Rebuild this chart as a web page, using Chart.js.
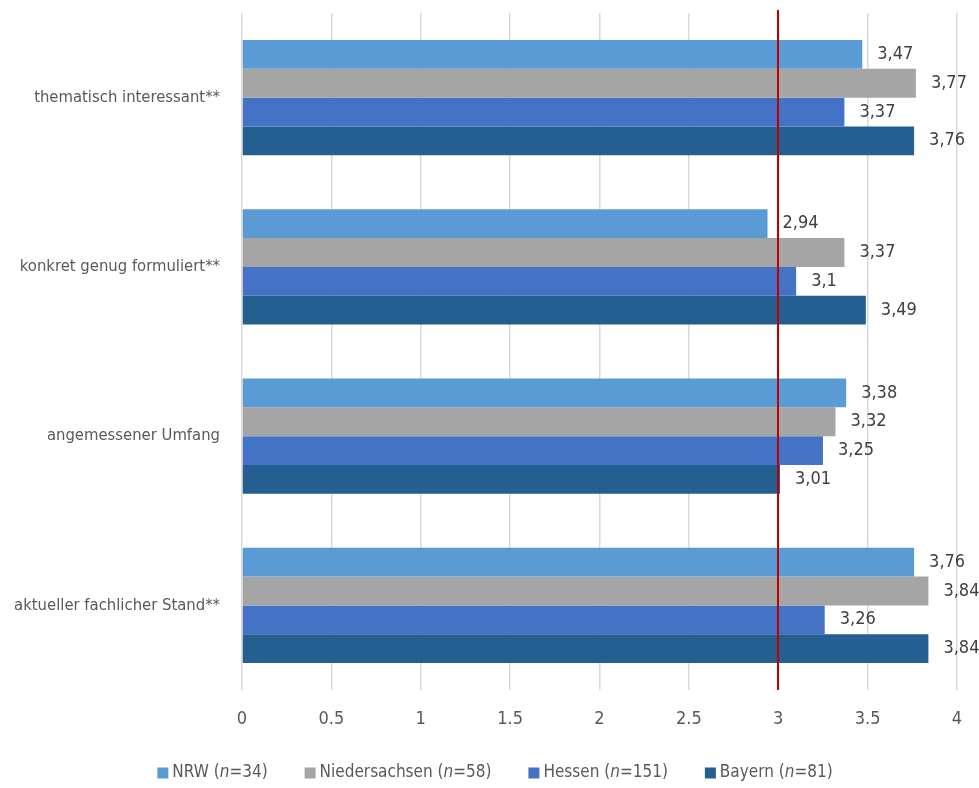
<!DOCTYPE html>
<html lang="de">
<head>
<meta charset="utf-8">
<script src="https://cdn.jsdelivr.net/npm/chart.js@4/dist/chart.umd.min.js"></script>
<style>
  html, body { margin: 0; padding: 0; background: #ffffff; }
  #wrap { width: 979px; height: 788px; position: relative; }
</style>
</head>
<body>
<div id="wrap"><canvas id="c" width="979" height="788"></canvas></div>
<script>
// Bewertung der Materialien nach Bundesland (Mittelwerte)
const categories = [
  'thematisch interessant**',
  'konkret genug formuliert**',
  'angemessener Umfang',
  'aktueller fachlicher Stand**'
];
const seriesNames = ['NRW', 'Niedersachsen', 'Hessen', 'Bayern'];
const sampleSizes = [34, 58, 151, 81];
const nrwValues = [3.47, 2.94, 3.38, 3.76];
const niedersachsenValues = [3.77, 3.37, 3.32, 3.84];
const hessenValues = [3.37, 3.1, 3.25, 3.26];
const bayernValues = [3.76, 3.49, 3.01, 3.84];
const xTicks = [0, 0.5, 1, 1.5, 2, 2.5, 3, 3.5, 4];
const referenceValue = 3;

const colors = ['#5B9BD5', '#A5A5A5', '#4472C4', '#255E91'];
const FONT = "'Liberation Sans Narrow', 'DejaVu Sans Condensed', 'Noto Sans', sans-serif";

const seriesValues = [nrwValues, niedersachsenValues, hessenValues, bayernValues];

const datasets = seriesNames.map((name, i) => ({
  label: name,
  data: seriesValues[i],
  backgroundColor: colors[i],
  borderWidth: 0,
  categoryPercentage: 0.68,
  barPercentage: 1.0
}));

// Value labels to the right of each bar, German decimal comma
const valueLabels = {
  id: 'valueLabels',
  afterDatasetsDraw(chart) {
    const ctx = chart.ctx;
    ctx.save();
    ctx.font = '18px ' + FONT;
    ctx.fillStyle = '#404040';
    ctx.textAlign = 'left';
    ctx.textBaseline = 'middle';
    chart.data.datasets.forEach((ds, di) => {
      const meta = chart.getDatasetMeta(di);
      meta.data.forEach((bar, i) => {
        const txt = String(ds.data[i]).replace('.', ',');
        ctx.fillText(txt, bar.x + 15, bar.y);
      });
    });
    ctx.restore();
  }
};

// Red reference line at the scale midpoint value
const refLine = {
  id: 'refLine',
  afterDatasetsDraw(chart) {
    const { ctx, chartArea, scales } = chart;
    const x = Math.round(scales.x.getPixelForValue(referenceValue));
    ctx.save();
    ctx.strokeStyle = '#C00000';
    ctx.lineWidth = 2;
    ctx.beginPath();
    ctx.moveTo(x, chartArea.top - 3);
    ctx.lineTo(x, chartArea.bottom);
    ctx.stroke();
    ctx.restore();
  }
};

// Legend with italic sample size symbol
const italicLegend = {
  id: 'italicLegend',
  afterDraw(chart) {
    const ctx = chart.ctx;
    const size = 17;
    const boxSize = 11;
    const boxGap = 4;
    const itemGap = 37;
    const y = 773;
    const centerX = 495;
    const upright = size + 'px ' + FONT;
    const italic = 'italic ' + size + 'px ' + FONT;
    ctx.save();
    ctx.textBaseline = 'middle';
    const items = seriesNames.map((name, i) => {
      const parts = [
        { t: name + ' (', f: upright },
        { t: 'n', f: italic },
        { t: '=' + sampleSizes[i] + ')', f: upright }
      ];
      let w = 0;
      parts.forEach(p => { ctx.font = p.f; p.w = ctx.measureText(p.t).width; w += p.w; });
      return { parts, w: boxSize + boxGap + w, color: colors[i] };
    });
    const total = items.reduce((s, it) => s + it.w, 0) + itemGap * (items.length - 1);
    let x = centerX - total / 2;
    items.forEach(it => {
      ctx.fillStyle = it.color;
      ctx.fillRect(x, y - boxSize / 2, boxSize, boxSize);
      let tx = x + boxSize + boxGap;
      ctx.fillStyle = '#595959';
      it.parts.forEach(p => { ctx.font = p.f; ctx.fillText(p.t, tx, y); tx += p.w; });
      x += it.w + itemGap;
    });
    ctx.restore();
  }
};

new Chart(document.getElementById('c'), {
  type: 'bar',
  data: { labels: categories, datasets },
  options: {
    indexAxis: 'y',
    responsive: false,
    animation: false,
    devicePixelRatio: 1,
    layout: { padding: { top: 13, right: 22, bottom: 38, left: 0 } },
    plugins: {
      legend: { display: false },
      tooltip: { enabled: false }
    },
    scales: {
      x: {
        min: 0,
        max: 4,
        afterBuildTicks(scale) { scale.ticks = xTicks.map(v => ({ value: v })); },
        ticks: {
          callback: v => String(v),
          color: '#595959',
          font: { family: FONT, size: 18 },
          padding: 19,
          maxRotation: 0
        },
        grid: { color: '#D9D9D9', lineWidth: 1.5, drawTicks: false },
        border: { display: false },
        afterFit(scale) {
          scale.height = 60;
          scale.paddingLeft = 0;
          scale.paddingRight = 0;
        }
      },
      y: {
        ticks: {
          color: '#595959',
          font: { family: FONT, size: 16.5 },
          padding: 22
        },
        grid: { display: false, drawTicks: false },
        border: { display: false },
        afterFit(scale) {
          scale.width = 242;
          scale.paddingTop = 0;
          scale.paddingBottom = 0;
        }
      }
    }
  },
  plugins: [valueLabels, refLine, italicLegend]
});
</script>
</body>
</html>
